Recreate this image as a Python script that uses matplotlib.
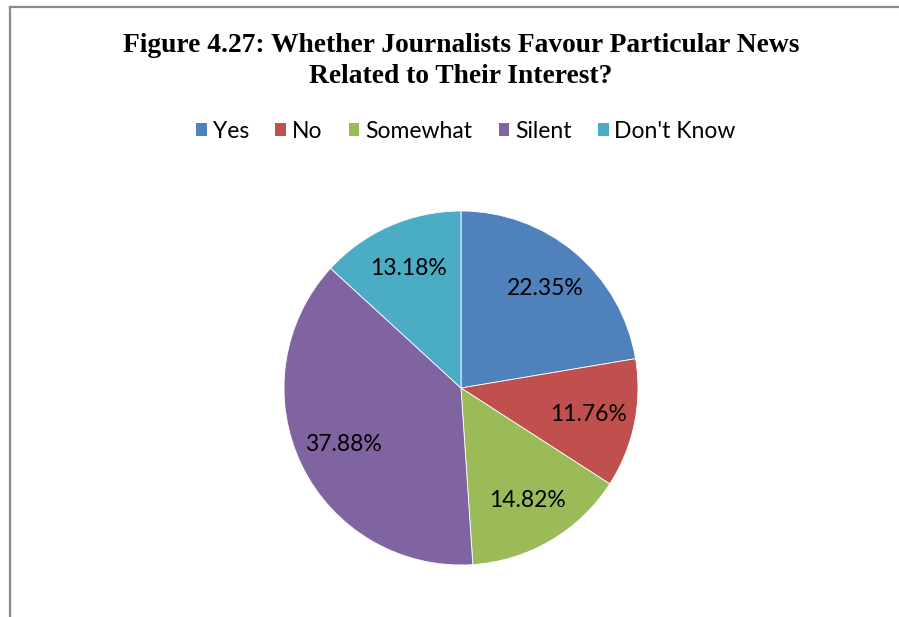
import matplotlib
matplotlib.use("Agg")
import matplotlib.pyplot as plt
from matplotlib.lines import Line2D
from matplotlib.patches import Patch

labels = ["Yes", "No", "Somewhat", "Silent", "Don't Know"]
values = [22.35, 11.76, 14.82, 37.88, 13.18]
colors = ["#4F81BD", "#C0504D", "#9BBB59", "#8064A2", "#4BACC6"]
title = "Figure 4.27: Whether Journalists Favour Particular News\nRelated to Their Interest?"

W, H = 899, 617
fig = plt.figure(figsize=(W / 100, H / 100), dpi=100)

# pie centre / radius in pixels
cx, cy, r = 461, 388, 177
ax = fig.add_axes([(cx - r) / W, (H - cy - r) / H, 2 * r / W, 2 * r / H])
ax.pie(values, colors=colors, startangle=90, counterclock=False,
       autopct=lambda p: "%.2f%%" % p, pctdistance=0.735,
       wedgeprops=dict(edgecolor="white", linewidth=0.6),
       textprops=dict(fontsize=16.5, family="Lato", color="#000000"))
ax.set_xlim(-1, 1)
ax.set_ylim(-1, 1)
ax.set_aspect("auto")
ax.axis("off")

fig.text(cx / W, 1 - 61 / H, title, ha="center", va="center",
         fontsize=19.8, fontweight="bold", family="Liberation Serif", linespacing=1.3)

handles = [Patch(facecolor=c, edgecolor="none") for c in colors]
fig.legend(handles, labels, loc="center", bbox_to_anchor=(466 / W, 1 - 131 / H), ncol=5,
           frameon=False, prop=dict(family="Lato", size=16.5), handlelength=0.47, handleheight=0.47,
           handletextpad=0.25, columnspacing=1.15)

# frame lines of the chart area
fig.add_artist(Line2D([10 / W, 1], [1 - 7 / H, 1 - 7 / H], color="#8a8a8a", linewidth=1.6))
fig.add_artist(Line2D([10 / W, 10 / W], [1 - 7 / H, 0], color="#8a8a8a", linewidth=1.6))

fig.savefig("out.png", dpi=100, facecolor="white")
